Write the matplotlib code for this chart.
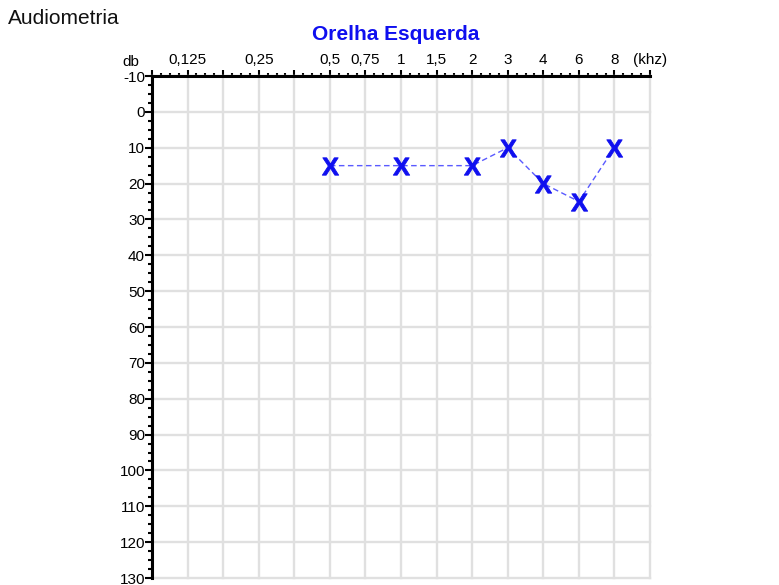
import matplotlib
matplotlib.use("Agg")
import matplotlib.pyplot as plt
from matplotlib.ticker import FixedLocator, MultipleLocator
from matplotlib.textpath import TextPath
from matplotlib.font_manager import FontProperties
from matplotlib.transforms import Affine2D

plt.rcParams['font.family'] = ['Liberation Sans', 'DejaVu Sans']

# Data
freq_labels = ['', '0,125', '', '0,25', '', '0,5', '0,75', '1', '1,5', '2', '3', '4', '6', '8', '(khz)']
test_freqs = ['0,5', '1', '2', '3', '4', '6', '8']
left_db = [15, 15, 15, 10, 20, 25, 10]
db_ticks = list(range(-10, 131, 10))

xpos = [freq_labels.index(f) for f in test_freqs]

fig = plt.figure(figsize=(7.79, 5.85), dpi=100)
ax = fig.add_axes([152/779, 1-578/585, (650-152)/779, (578-76)/585])

ax.set_xlim(0, len(freq_labels) - 1)
ax.set_ylim(db_ticks[-1], db_ticks[0])

ax.xaxis.set_major_locator(FixedLocator(range(len(freq_labels))))
ax.set_xticklabels(freq_labels)
ax.xaxis.set_minor_locator(MultipleLocator(0.25))
ax.yaxis.set_major_locator(FixedLocator(db_ticks))
ax.set_yticklabels([str(v) for v in db_ticks])
ax.yaxis.set_minor_locator(MultipleLocator(2.5))

ax.xaxis.tick_top()
ax.tick_params(axis='x', which='major', direction='out', length=4.5, width=1.5, pad=2, labelsize=11)
ax.tick_params(axis='x', which='minor', direction='out', length=2.5, width=1.5)
ax.tick_params(axis='y', which='major', direction='out', length=5, width=1.5, pad=0, labelsize=11)
ax.tick_params(axis='y', which='minor', direction='out', length=3, width=1.5)

for s in ['right', 'bottom']:
    ax.spines[s].set_visible(False)
for s in ['left', 'top']:
    ax.spines[s].set_linewidth(2.2)
    ax.spines[s].set_color('black')
    ax.spines[s].set_zorder(5)

ax.grid(True, which='major', color='#e0e0e0', linewidth=1.7)
ax.set_axisbelow(True)
for gl in ax.get_xgridlines() + ax.get_ygridlines():
    gl.set_clip_on(False)

# X marker glyph
fp = FontProperties(family='Liberation Sans', weight='bold')
tp = TextPath((0, 0), 'X', prop=fp)
ext = tp.get_extents()
tp = tp.transformed(Affine2D().translate(-(ext.x0 + ext.x1) / 2, -(ext.y0 + ext.y1) / 2))

ax.plot(xpos, left_db, linestyle=(0, (4, 2.5)), color='#5a5aff', linewidth=1.0, zorder=3)
ax.plot(xpos, left_db, linestyle='none', marker=tp, markersize=12.5,
        color='#0f0fef', markeredgecolor='#0f0fef', markeredgewidth=0.6, zorder=4)

fig.text(8/779, 1-18/585, 'Audiometria', fontsize=15, ha='left', va='center', color='#111111')
fig.text(396/779, 1-34/585, 'Orelha Esquerda', fontsize=15, fontweight='bold',
         ha='center', va='center', color='#0f0fef')
fig.text(131/779, 1-62/585, 'db', fontsize=11, ha='center', va='center')

fig.savefig('out.png', dpi=100)
